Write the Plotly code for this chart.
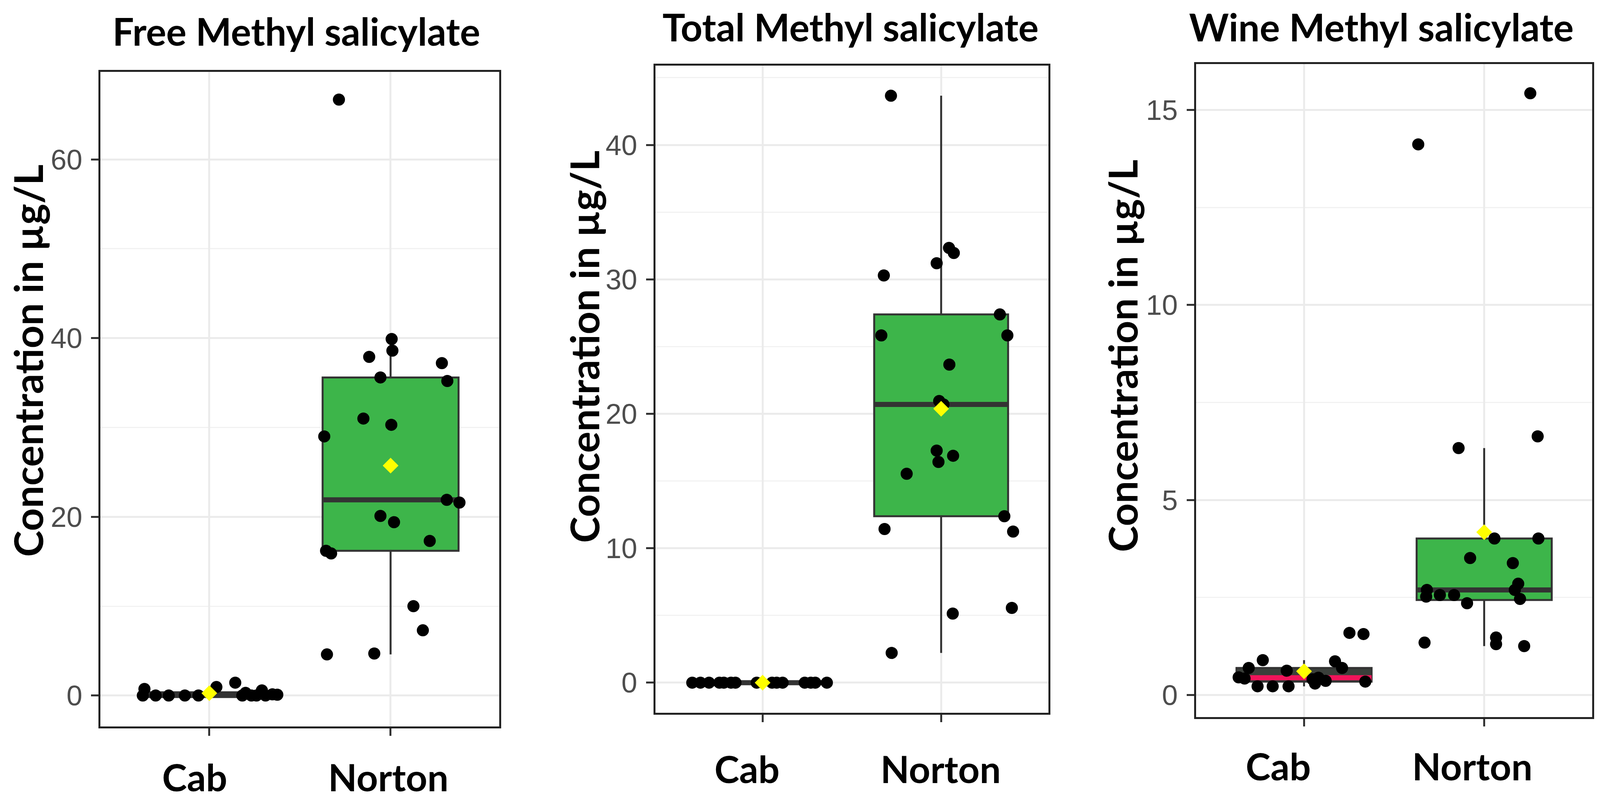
import numpy as np
import plotly.graph_objects as go

groups = ["Cab", "Norton"]
panel_titles = ["Free Methyl salicylate", "Total Methyl salicylate", "Wine Methyl salicylate"]
y_label = "Concentration in µg/L"

# values in ug/L; *_jit = horizontal jitter of each dot (category units)
free_cab = [0.74, 0.0, 0.0, 0.0, 0.0, 0.95, 1.44, 0.3, 0.0, 0.57, 0.0, 0.13, 0.09, 0.0, 0.0, 0.0]
free_cab_jit = [-0.358, -0.367, -0.296, -0.224, -0.135, 0.039, 0.143, 0.2, 0.232, 0.29, 0.31,
                0.348, 0.375, 0.182, -0.06, 0.26]
free_norton = [66.7, 39.9, 38.6, 37.9, 37.2, 35.6, 35.2, 31.0, 30.3, 29.0, 21.9, 21.6, 20.1,
               19.4, 17.3, 16.2, 15.9, 10.0, 7.3, 4.6, 4.7]
free_norton_jit = [-0.285, 0.006, 0.01, -0.118, 0.283, -0.056, 0.313, -0.15, 0.004, -0.366, 0.31,
                   0.38, -0.056, 0.019, 0.216, -0.356, -0.328, 0.126, 0.178, -0.351, -0.09]

total_cab = [0.0, 0.0, 0.0, 0.0, 0.0, 0.0, 0.0, 0.0, 0.0, 0.0, 0.0, 0.0, 0.0, 0.0, 0.0]
total_cab_jit = [-0.394, -0.348, -0.242, -0.217, -0.177, -0.152, -0.033, 0.053, 0.079, 0.112,
                 0.236, 0.27, 0.295, 0.36, -0.3]
total_norton = [43.66, 30.29, 31.2, 32.34, 31.96, 27.39, 25.83, 25.83, 23.66, 20.95, 20.7, 17.26,
                16.42, 16.88, 15.54, 11.43, 12.38, 11.24, 5.14, 5.56, 2.21]
total_norton_jit = [-0.281, -0.321, -0.025, 0.044, 0.071, 0.329, -0.335, 0.371, 0.046, -0.011, 0.013,
                    -0.025, -0.015, 0.067, -0.193, -0.317, 0.354, 0.403, 0.065, 0.396, -0.277]

wine_cab = [0.45, 0.69, 0.89, 0.22, 0.22, 0.62, 0.22, 0.40, 0.29, 0.86, 0.69, 1.59, 1.56, 0.34,
            0.42, 0.44, 0.36]
wine_cab_jit = [-0.363, -0.307, -0.229, -0.258, -0.174, -0.096, -0.086, 0.047, 0.061, 0.172, 0.211,
                0.252, 0.33, 0.34, -0.33, 0.08, 0.12]
wine_norton = [15.43, 14.12, 6.63, 6.33, 4.01, 4.01, 3.51, 3.38, 2.85, 2.69, 2.69, 2.56, 2.56,
               2.52, 2.35, 2.46, 1.34, 1.47, 1.3, 1.25]
wine_norton_jit = [0.256, -0.366, 0.297, -0.142, 0.057, 0.301, -0.078, 0.159, 0.189, 0.17, -0.318,
                   -0.246, -0.167, -0.322, -0.095, 0.199, -0.331, 0.066, 0.066, 0.222]

# the reference is 4550x2056; the browser viewport is 4096x2056 with an 8px body margin,
# so the figure fills the page width and positions are given as paper fractions
REF_W = 4550
VIEW_W = 4096
PAGE_MARGIN = 8
FIG_W, FIG_H = VIEW_W - 2 * PAGE_MARGIN, 2056 - 2 * PAGE_MARGIN
KX = VIEW_W / REF_W


def fx(ref_x):
    return (ref_x * KX - PAGE_MARGIN) / FIG_W


def fy(ref_y):
    return 1 - (ref_y - PAGE_MARGIN) / FIG_H


GREEN = "#3db54a"
DARK = "#333333"
BOX_W = 0.75
TITLE_FONT = dict(family="Lato", size=97, color="black", weight=700)
YLAB_FONT = dict(family="Lato", size=102, color="black", weight=700)
XLAB_FONT = dict(family="Lato", size=96, color="black", weight=700)

# panel frames in reference pixels (left, right, top, bottom), text centres and the
# small sideways offsets of the group labels seen in the reference
panels = [
    dict(cab=(free_cab, free_cab_jit), norton=(free_norton, free_norton_jit),
         box=(286, 1420, 184, 1860), yrange=[-3.46, 69.8], dtick=20,
         title_xy=(843, 80), ylab_xy=(79, 924), xlab_y=1988, xlab_shift=(-42, -7),
         cab_fill=DARK, cab_med=DARK),
    dict(cab=(total_cab, total_cab_jit), norton=(total_norton, total_norton_jit),
         box=(1864, 2981, 168, 1825), yrange=[-2.24, 45.9], dtick=10,
         title_xy=(2419, 68), ylab_xy=(1660, 888), xlab_y=1967, xlab_shift=(-44, -2),
         cab_fill=DARK, cab_med=DARK),
    dict(cab=(wine_cab, wine_cab_jit), norton=(wine_norton, wine_norton_jit),
         box=(3401, 4528, 164, 1836), yrange=[-0.57, 16.18], dtick=5,
         title_xy=(3929, 68), ylab_xy=(3190, 911), xlab_y=1960, xlab_shift=(-73, -34),
         cab_fill="#3a3f3a", cab_med="#f0145a"),
]


def box_stats(v):
    v = np.asarray(v, float)
    q1, med, q3 = np.percentile(v, [25, 50, 75])
    iqr = q3 - q1
    lo = v[v >= q1 - 1.5 * iqr].min()
    hi = v[v <= q3 + 1.5 * iqr].max()
    return q1, med, q3, lo, hi


fig = go.Figure()
annotations = []
layout_axes = {}

for i, p in enumerate(panels, start=1):
    sfx = "" if i == 1 else str(i)
    xa, ya = "x" + sfx, "y" + sfx
    for pos, key in ((1, "cab"), (2, "norton")):
        vals, jit = p[key]
        q1, med, q3, lo, hi = box_stats(vals)
        fill = GREEN if key == "norton" else p["cab_fill"]
        med_col = DARK if key == "norton" else p["cab_med"]
        fig.add_trace(go.Box(
            x=[pos], q1=[q1], median=[med], q3=[q3], lowerfence=[lo], upperfence=[hi],
            width=BOX_W, whiskerwidth=0, boxpoints=False, fillcolor=fill,
            line=dict(color=DARK, width=5), xaxis=xa, yaxis=ya, hoverinfo="skip"))
        fig.add_trace(go.Scatter(
            x=[pos - BOX_W / 2, pos + BOX_W / 2], y=[med, med], mode="lines",
            line=dict(color=med_col, width=13), xaxis=xa, yaxis=ya, hoverinfo="skip"))
        fig.add_trace(go.Scatter(
            x=pos + np.asarray(jit), y=vals, mode="markers",
            marker=dict(size=31, color="black", line=dict(width=0)),
            xaxis=xa, yaxis=ya))
        fig.add_trace(go.Scatter(
            x=[pos], y=[np.mean(vals)], mode="markers",
            marker=dict(symbol="diamond", size=31, color="#ffff00", line=dict(width=0)),
            xaxis=xa, yaxis=ya))

        # group label under the axis, placed on the category through the x axis
        annotations.append(dict(text=groups[pos - 1], x=pos, xref=xa, y=fy(p["xlab_y"]),
                                yref="paper", xanchor="center", yanchor="middle",
                                xshift=p["xlab_shift"][pos - 1] * KX, showarrow=False,
                                font=XLAB_FONT))

    left, right, top, bottom = p["box"]
    axis_common = dict(showline=True, mirror=True, linecolor="#222222", linewidth=5,
                       ticks="outside", ticklen=19, tickwidth=5, tickcolor=DARK,
                       gridcolor="#ebebeb", gridwidth=5, zeroline=False, fixedrange=True)
    layout_axes["xaxis" + sfx] = dict(
        axis_common, domain=[fx(left), fx(right)], range=[0.4, 2.6], anchor=ya,
        tickmode="array", tickvals=[1, 2], showticklabels=False, showgrid=True)
    layout_axes["yaxis" + sfx] = dict(
        axis_common, domain=[fy(bottom), fy(top)], range=p["yrange"], anchor=xa,
        tick0=0, dtick=p["dtick"], showgrid=True, ticklabelstandoff=8,
        minor=dict(dtick=p["dtick"] / 2, showgrid=True, gridcolor="#f2f2f2", gridwidth=3,
                   ticks=""),
        tickfont=dict(family="Liberation Sans", size=73, color="#4d4d4d"))

    tx, ty = p["title_xy"]
    annotations.append(dict(text=panel_titles[i - 1], x=fx(tx), y=fy(ty), xref="paper",
                            yref="paper", xanchor="center", yanchor="middle",
                            showarrow=False, font=TITLE_FONT))
    lx, ly = p["ylab_xy"]
    annotations.append(dict(text=y_label, x=fx(lx), y=fy(ly), xref="paper", yref="paper",
                            xanchor="center", yanchor="middle", textangle=-90,
                            showarrow=False, font=YLAB_FONT))

fig.update_layout(
    height=FIG_H, margin=dict(l=0, r=0, t=0, b=0),
    paper_bgcolor="white", plot_bgcolor="white", showlegend=False,
    annotations=annotations, **layout_axes)

fig.write_html("out.html")
